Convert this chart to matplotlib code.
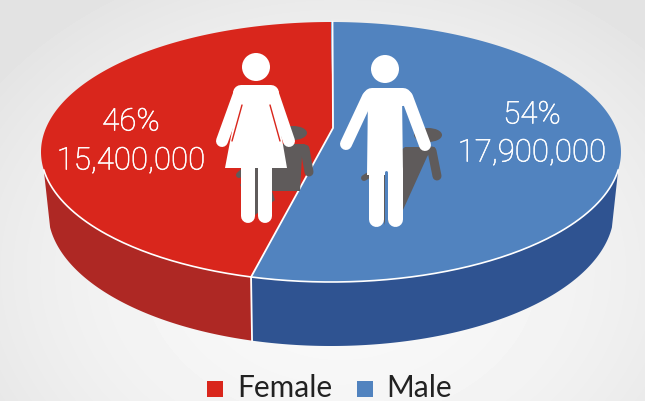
import numpy as np
import matplotlib
matplotlib.use("Agg")
import matplotlib.pyplot as plt
import matplotlib.patheffects as pe
from matplotlib.patches import Circle, Ellipse, Rectangle

categories = ["Female", "Male"]
shares = [46, 54]
counts = ["15,400,000", "17,900,000"]
colors_top = ["#D9261C", "#5183BF"]
colors_side = ["#AE2824", "#2F5391"]
SHADOW = "#5F5B5B"
W, H = 645, 401
CX, CY, A, B = 331, 152, 290, 130      # top rim
CY2, A2, B2 = 211, 283, 135            # bottom rim (narrower through perspective)
VX, VY = 333, 128                      # perspective centre of the pie
START = 88.4                           # view rotation of the slices

fig = plt.figure(figsize=(W / 100, H / 100), dpi=100)
ax = fig.add_axes([0, 0, 1, 1])
ax.set_xlim(0, W); ax.set_ylim(H, 0); ax.axis("off")

# background
yy, xx = np.mgrid[0:H, 0:W]
d = np.sqrt(((xx - 340) / 430) ** 2 + ((yy - 270) / 330) ** 2)
bg = np.clip(0.975 - 0.085 * np.clip(d, 0, 1) ** 2, 0, 1)
ax.imshow(bg, cmap="gray", vmin=0, vmax=1, extent=(0, W, H, 0), aspect="auto", zorder=0)

def rim(t0, t1):
    t = np.radians(np.linspace(t0, t1, 200))
    return CX + A * np.cos(t), CY - B * np.sin(t)

def rim2(t0, t1):
    t = np.radians(np.linspace(t0, t1, 200))
    return CX + A2 * np.cos(t), CY2 - B2 * np.sin(t)

split = START + 360 * shares[0] / sum(shares)
ranges = [(90, split), (split, 450)]

# side walls
for (t0, t1), (b0, b1), c in zip([(188, split), (split, 352)],
                                 [(187, split - 0.2), (split - 0.2, 353)], colors_side):
    x, y = rim(t0, t1)
    xb, yb = rim2(b1, b0)
    ax.fill(np.r_[x, xb], np.r_[y, yb], color=c, lw=0, zorder=1)

# top slices
for (t0, t1), c in zip(ranges, colors_top):
    x, y = rim(t0, t1)
    ax.fill(np.r_[VX, x], np.r_[VY, y], color=c, lw=0, zorder=2)

# white separators
xs, ys = rim(split, split)
xt, yt = rim(90, 90)
xb, yb = rim2(split - 0.2, split - 0.2)
ax.plot([xt[0] + 1.5, VX, xs[0]], [yt[0], VY, ys[0]], color="white", lw=1.3, zorder=3)
ax.plot([xs[0], xb[0]], [ys[0], yb[0]], color="white", lw=1.3, zorder=3)
x, y = rim(188, 352)
ax.plot(x, y, color="white", lw=1.2, zorder=3)

def stroke(xs_, ys_, w, c, z):
    ax.plot(xs_, ys_, color=c, lw=w * 0.72, solid_capstyle="round", solid_joinstyle="round", zorder=z)

# shadows
ax.add_patch(Ellipse((293, 133), 28, 14, color=SHADOW, lw=0, zorder=4))
ax.fill([268, 305, 302, 300, 272, 275, 255, 240], [144, 144, 156, 191, 191, 200, 215, 185], color=SHADOW, lw=0, zorder=4)
stroke([305, 309], [149, 172], 9, SHADOW, 4)
stroke([250, 239], [165, 175], 6, SHADOW, 4)

ax.add_patch(Ellipse((428, 135), 28, 14, color=SHADOW, lw=0, zorder=4))
ax.fill([405, 435, 430, 427, 403, 385, 370], [147, 147, 152, 157, 210, 225, 175], color=SHADOW, lw=0, zorder=4)
stroke([432, 437], [151, 176], 9, SHADOW, 4)
stroke([380, 364], [168, 178], 6, SHADOW, 4)

# female figure
WH = "white"
ax.add_patch(Circle((256, 67), 14, color=WH, lw=0, zorder=5))
stroke([241, 271], [93, 93], 16, WH, 5)
ax.fill([240, 272, 277, 287, 225, 236], [90, 90, 110, 168, 168, 110], color=WH, lw=0, zorder=5)
stroke([239, 222], [94, 141], 12, WH, 5)
stroke([273, 289], [94, 141], 12, WH, 5)
stroke([248, 248], [165, 216], 14, WH, 5)
stroke([265, 265], [165, 216], 14, WH, 5)
stroke([242, 232], [105, 141], 1.4, colors_top[0], 6)
stroke([270, 280], [105, 141], 1.4, colors_top[0], 6)

# male figure
ax.add_patch(Circle((385, 69), 14, color=WH, lw=0, zorder=5))
stroke([372, 403], [97, 97], 18, WH, 5)
ax.fill([368, 402, 403, 367], [95, 95, 175, 175], color=WH, lw=0, zorder=5)
stroke([368, 346], [97, 144], 12, WH, 5)
stroke([407, 425], [97, 145], 12, WH, 5)
stroke([385.5, 385.5], [172, 228], 3, colors_top[1], 5.5)
stroke([376, 376], [170, 219], 15, WH, 5.6)
stroke([395, 395], [170, 219], 15, WH, 5.6)

# labels
effect = [pe.withStroke(linewidth=0.4, foreground="white")]
for (px, py1, py2), s, n in zip([(131, 122, 161), (532, 115, 153)], shares, counts):
    ax.text(px, py1, f"{s}%", color="white", fontsize=22.5, family="Roboto", fontweight="light",
            ha="center", va="center", zorder=7, path_effects=effect)
    ax.text(px, py2, n, color="white", fontsize=22.5, family="Roboto", fontweight="light",
            ha="center", va="center", zorder=7, path_effects=effect)

# legend
for sq_x, tx, cat, c in zip([207, 357], [237, 386], categories, colors_top):
    ax.add_patch(Rectangle((sq_x, 381), 16, 16, color=c, lw=0, zorder=7))
    ax.text(tx, 397, cat, color="#222222", fontsize=21.5, family="Lato", ha="left", va="baseline", zorder=7)

fig.savefig("out.png", dpi=100)
